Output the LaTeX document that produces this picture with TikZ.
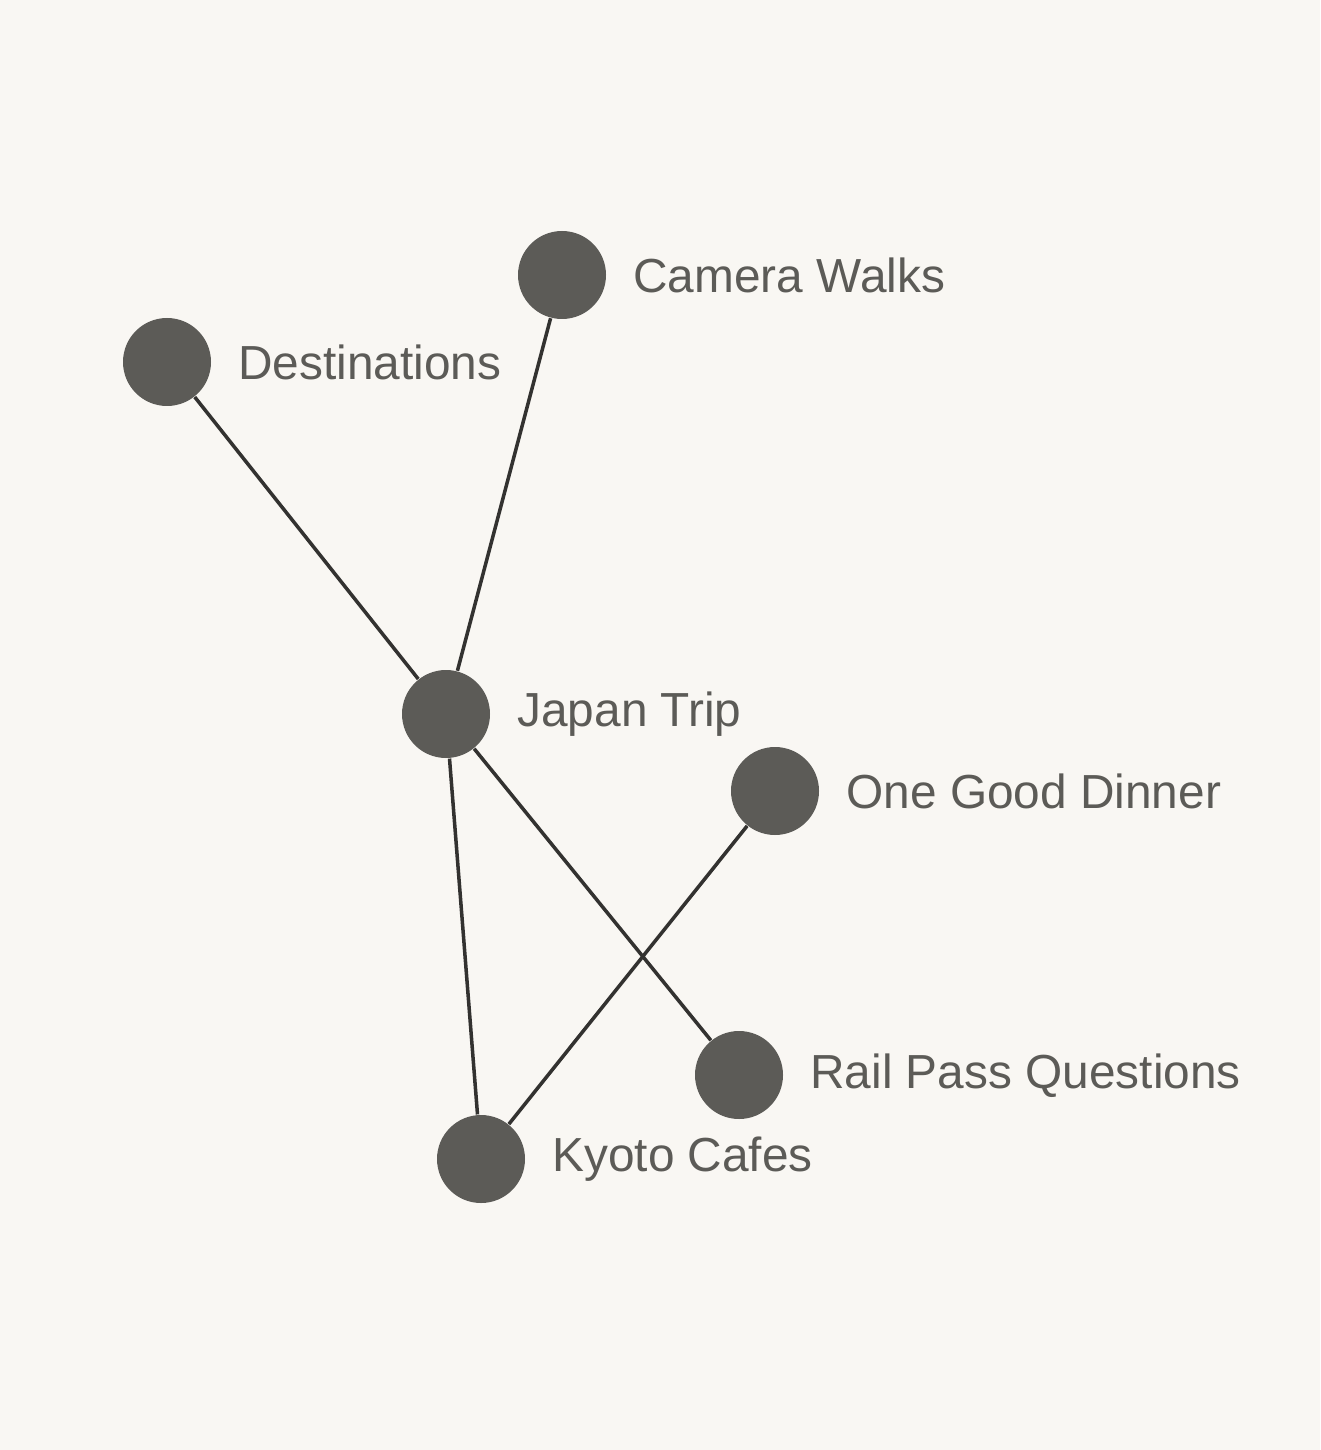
\documentclass[tikz,border=0pt]{standalone}
\usepackage{fontspec}
\setmainfont{Liberation Sans}
\usetikzlibrary{positioning}
\definecolor{paper}{HTML}{F9F7F3}
\definecolor{dotgray}{HTML}{5C5B57}
\definecolor{edgegray}{HTML}{333230}
\tikzset{
  dot/.style={circle,fill=dotgray,minimum size=0.88cm,inner sep=0pt},
  lbl/.style={text=dotgray,inner sep=0pt,yshift=-0.005cm,font=\fontsize{13.6pt}{16pt}\selectfont},
  link/.style={edgegray,line width=1pt}
}
\begin{document}
\begin{tikzpicture}
     \fill[paper] (0,0) rectangle (13.2,-14.5);
     \useasboundingbox (0,0) rectangle (13.2,-14.5);
     % nodes
     \node[dot] (cam)  at (5.62,-2.75)  {};
     \node[dot] (dest) at (1.67,-3.62)  {};
     \node[dot] (trip) at (4.46,-7.14)  {};
     \node[dot] (din)  at (7.75,-7.91)  {};
     \node[dot] (rail) at (7.39,-10.75) {};
     \node[dot] (cafe) at (4.81,-11.59) {};
     % labels
     \node[lbl,right=0.26cm of cam]  (camL)  {Camera Walks};
     \node[lbl,right=0.26cm of dest] (destL) {Destinations};
     \node[lbl,right=0.26cm of trip] (tripL) {Japan Trip};
     \node[lbl,right=0.26cm of din]  (dinL)  {One Good Dinner};
     \node[lbl,right=0.26cm of rail] (railL) {Rail Pass Questions};
     \node[lbl,right=0.26cm of cafe] (cafeL) {Kyoto Cafes};
     % links
     \draw[link] (dest) -- (trip);
     \draw[link] (cam)  -- (trip);
     \draw[link] (trip) -- (cafe);
     \draw[link] (trip) -- (rail);
     \draw[link] (din)  -- (cafe);
    \end{tikzpicture}
\end{document}
